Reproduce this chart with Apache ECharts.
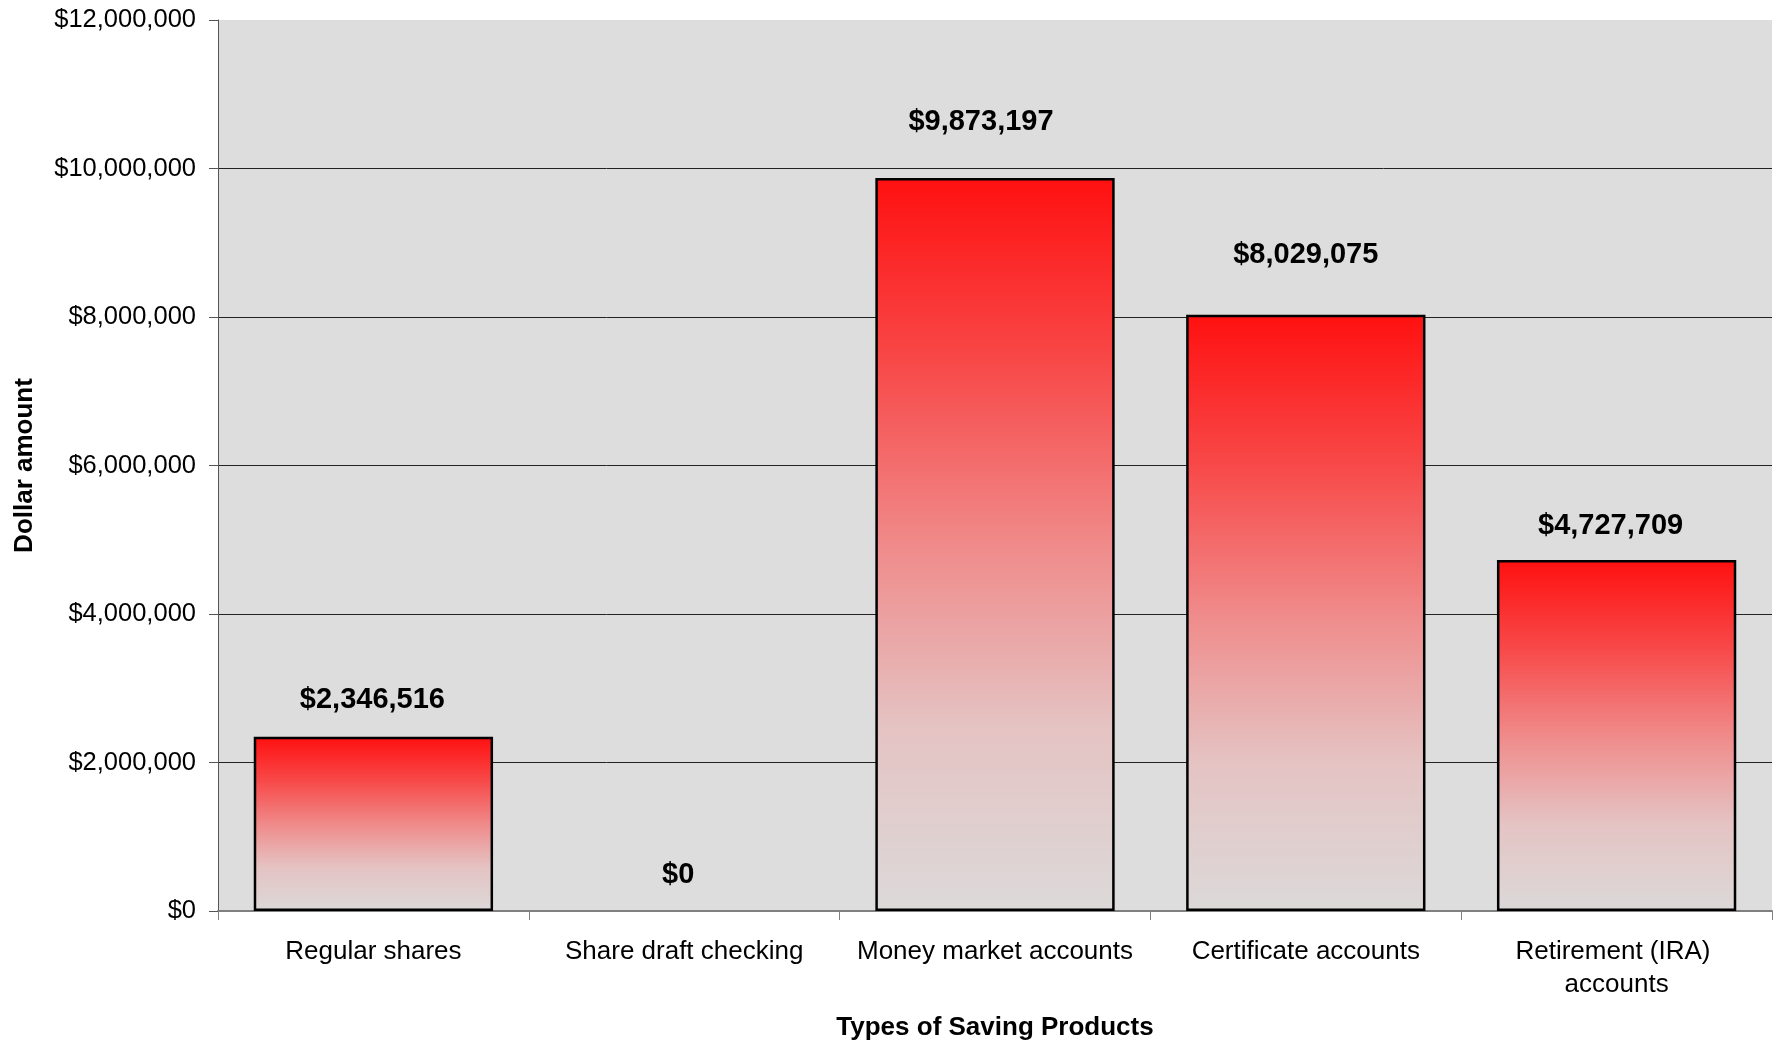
<!DOCTYPE html>
<html>
<head>
<meta charset="utf-8">
<script src="https://cdn.jsdelivr.net/npm/echarts@6/dist/echarts.min.js"></script>
<style>
html,body{margin:0;padding:0;background:#fff;}
#chart{width:1781px;height:1046px;}
</style>
</head>
<body>
<div id="chart"></div>
<script>
const categories = ["Regular shares", "Share draft checking", "Money market accounts", "Certificate accounts", "Retirement (IRA) accounts"];
const values = [2346516, 0, 9873197, 8029075, 4727709];
const yTicks = [0, 2000000, 4000000, 6000000, 8000000, 10000000, 12000000];
const xAxisTitle = "Types of Saving Products";
const yAxisTitle = "Dollar amount";

const labelDistances = [22, 22, 41, 45, 19];
const labelShiftX = [-1, -6, -14, 0, -6];
const fmt = v => '$' + Number(v).toLocaleString('en-US');
const FONT = '"Liberation Sans", Arial, sans-serif';

const chart = echarts.init(document.getElementById('chart'), null, {renderer: 'canvas'});
const gradient = new echarts.graphic.LinearGradient(0, 0, 0, 1, [
  {offset: 0, color: '#ff1010'},
  {offset: 0.25, color: '#f84848'},
  {offset: 0.5, color: '#f08a8a'},
  {offset: 0.75, color: '#e5c3c3'},
  {offset: 1, color: '#dcd9d9'}
]);

chart.setOption({
  backgroundColor: '#ffffff',
  animation: false,
  grid: {left: 218, right: 9, top: 20, bottom: 135, show: true, backgroundColor: '#dddddd', borderWidth: 0, containLabel: false},
  xAxis: {
    type: 'category',
    data: categories,
    name: xAxisTitle,
    nameLocation: 'middle',
    nameGap: 104,
    nameTextStyle: {fontFamily: FONT, fontSize: 26, fontWeight: 'bold', color: '#000'},
    axisLine: {show: true, lineStyle: {color: '#808080', width: 2}},
    axisTick: {show: true, length: 9, lineStyle: {color: '#808080', width: 1}},
    axisLabel: {fontFamily: FONT, fontSize: 26, color: '#000', margin: 24, lineHeight: 33, width: 300, overflow: 'break', interval: 0},
    splitLine: {show: false}
  },
  yAxis: {
    type: 'value',
    min: yTicks[0],
    max: yTicks[yTicks.length - 1],
    interval: yTicks[1] - yTicks[0],
    name: yAxisTitle,
    nameLocation: 'middle',
    nameGap: 180,
    nameRotate: 90,
    nameTextStyle: {fontFamily: FONT, fontSize: 26, fontWeight: 'bold', color: '#000'},
    axisLine: {show: true, lineStyle: {color: '#555', width: 1}},
    axisTick: {show: true, length: 9, lineStyle: {color: '#555', width: 1}},
    axisLabel: {fontFamily: FONT, fontSize: 25.5, color: '#000', margin: 22, formatter: fmt},
    splitLine: {show: true, lineStyle: {color: ['transparent', '#222', '#222', '#222', '#222', '#222', 'transparent'], width: 1}}
  },
  series: [{
    type: 'bar',
    barWidth: '77%',
    data: values.map((v, i) => ({
      value: v,
      itemStyle: v === 0 ? {borderWidth: 0, color: 'transparent'} : undefined,
      label: {distance: labelDistances[i], offset: [labelShiftX[i], 0]}
    })),
    itemStyle: {color: gradient, borderColor: '#000', borderWidth: 2.5},
    label: {show: true, position: 'top', formatter: p => fmt(p.value), fontFamily: FONT, fontSize: 29, fontWeight: 'bold', color: '#000'}
  }]
});
</script>
</body>
</html>
